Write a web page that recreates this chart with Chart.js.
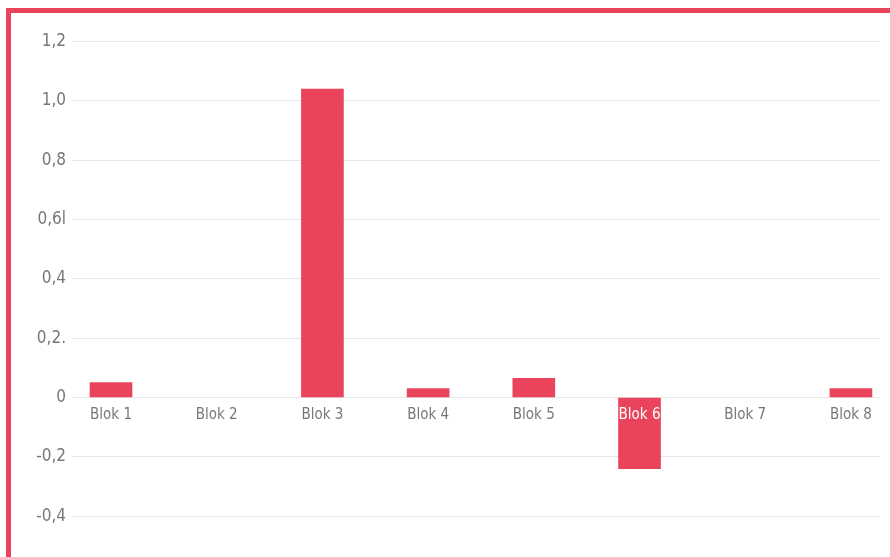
<!DOCTYPE html>
<html>
<head>
<meta charset="utf-8">
<script src="https://cdn.jsdelivr.net/npm/chart.js@4/dist/chart.umd.min.js"></script>
<style>
  html, body { margin: 0; padding: 0; background: #ffffff; overflow: hidden; }
  #frame { position: absolute; left: 6px; top: 8px; width: 900px; height: 600px;
           border-left: 5px solid #E9445B; border-top: 5px solid #E9445B; box-sizing: border-box; }
  #wrap { position: absolute; left: 0; top: 0; width: 890px; height: 557px; overflow: hidden; }
</style>
</head>
<body>
<div id="frame"></div>
<div id="wrap"><canvas id="c" width="890" height="557"></canvas></div>
<script>
const categories = ['Blok 1', 'Blok 2', 'Blok 3', 'Blok 4', 'Blok 5', 'Blok 6', 'Blok 7', 'Blok 8'];
const values = [0.05, 0, 1.04, 0.03, 0.065, -0.24, 0, 0.03];
const yTickValues = [1.2, 1.0, 0.8, 0.6, 0.4, 0.2, 0, -0.2, -0.4];
const yTickLabels = ['1,2', '1,0', '0,8', '0,6l', '0,4', '0,2.', '0', '-0,2', '-0,4'];

const FONT = "'Liberation Sans Narrow', 'DejaVu Sans Condensed', 'Roboto', sans-serif";
const BAR = '#E9445B';
const TXT = '#777777';

const points = categories.map((c, i) => ({ x: i, y: values[i] }));

new Chart(document.getElementById('c'), {
  type: 'bar',
  data: {
    datasets: [{
      data: points,
      backgroundColor: ctx => (ctx.raw && ctx.raw.y === 0 ? 'rgba(0,0,0,0)' : BAR),
      borderWidth: 0,
      barThickness: 42
    }]
  },
  options: {
    responsive: false,
    animation: false,
    layout: { padding: { top: 41.5, right: 10, bottom: 0, left: 0 } },
    plugins: { legend: { display: false }, tooltip: { enabled: false } },
    scales: {
      x: {
        type: 'linear',
        position: { y: 0 },
        offset: false,
        min: -0.369,
        max: 7.275,
        z: 1,
        grid: { display: false, drawTicks: false },
        border: { display: false },
        afterBuildTicks: s => { s.ticks = categories.map((c, i) => ({ value: i })); },
        ticks: {
          z: 1,
          autoSkip: false,
          maxRotation: 0,
          padding: 9,
          font: { family: FONT, size: 15 },
          color: ctx => (values[ctx.tick.value] < 0 ? '#ffffff' : TXT),
          callback: v => (categories[v] !== undefined ? categories[v] : '')
        }
      },
      y: {
        min: -0.483,
        max: 1.2,
        afterFit: s => { s.width = 72; },
        afterBuildTicks: s => { s.ticks = yTickValues.map(v => ({ value: v })); },
        grid: { color: '#e6e6e6', lineWidth: 1, drawTicks: false },
        border: { display: false },
        ticks: {
          padding: 6,
          font: { family: FONT, size: 17 },
          color: TXT,
          callback: v => {
            const i = yTickValues.findIndex(t => Math.abs(t - v) < 1e-6);
            return i >= 0 ? yTickLabels[i] : '';
          }
        }
      }
    }
  }
});
</script>
</body>
</html>
